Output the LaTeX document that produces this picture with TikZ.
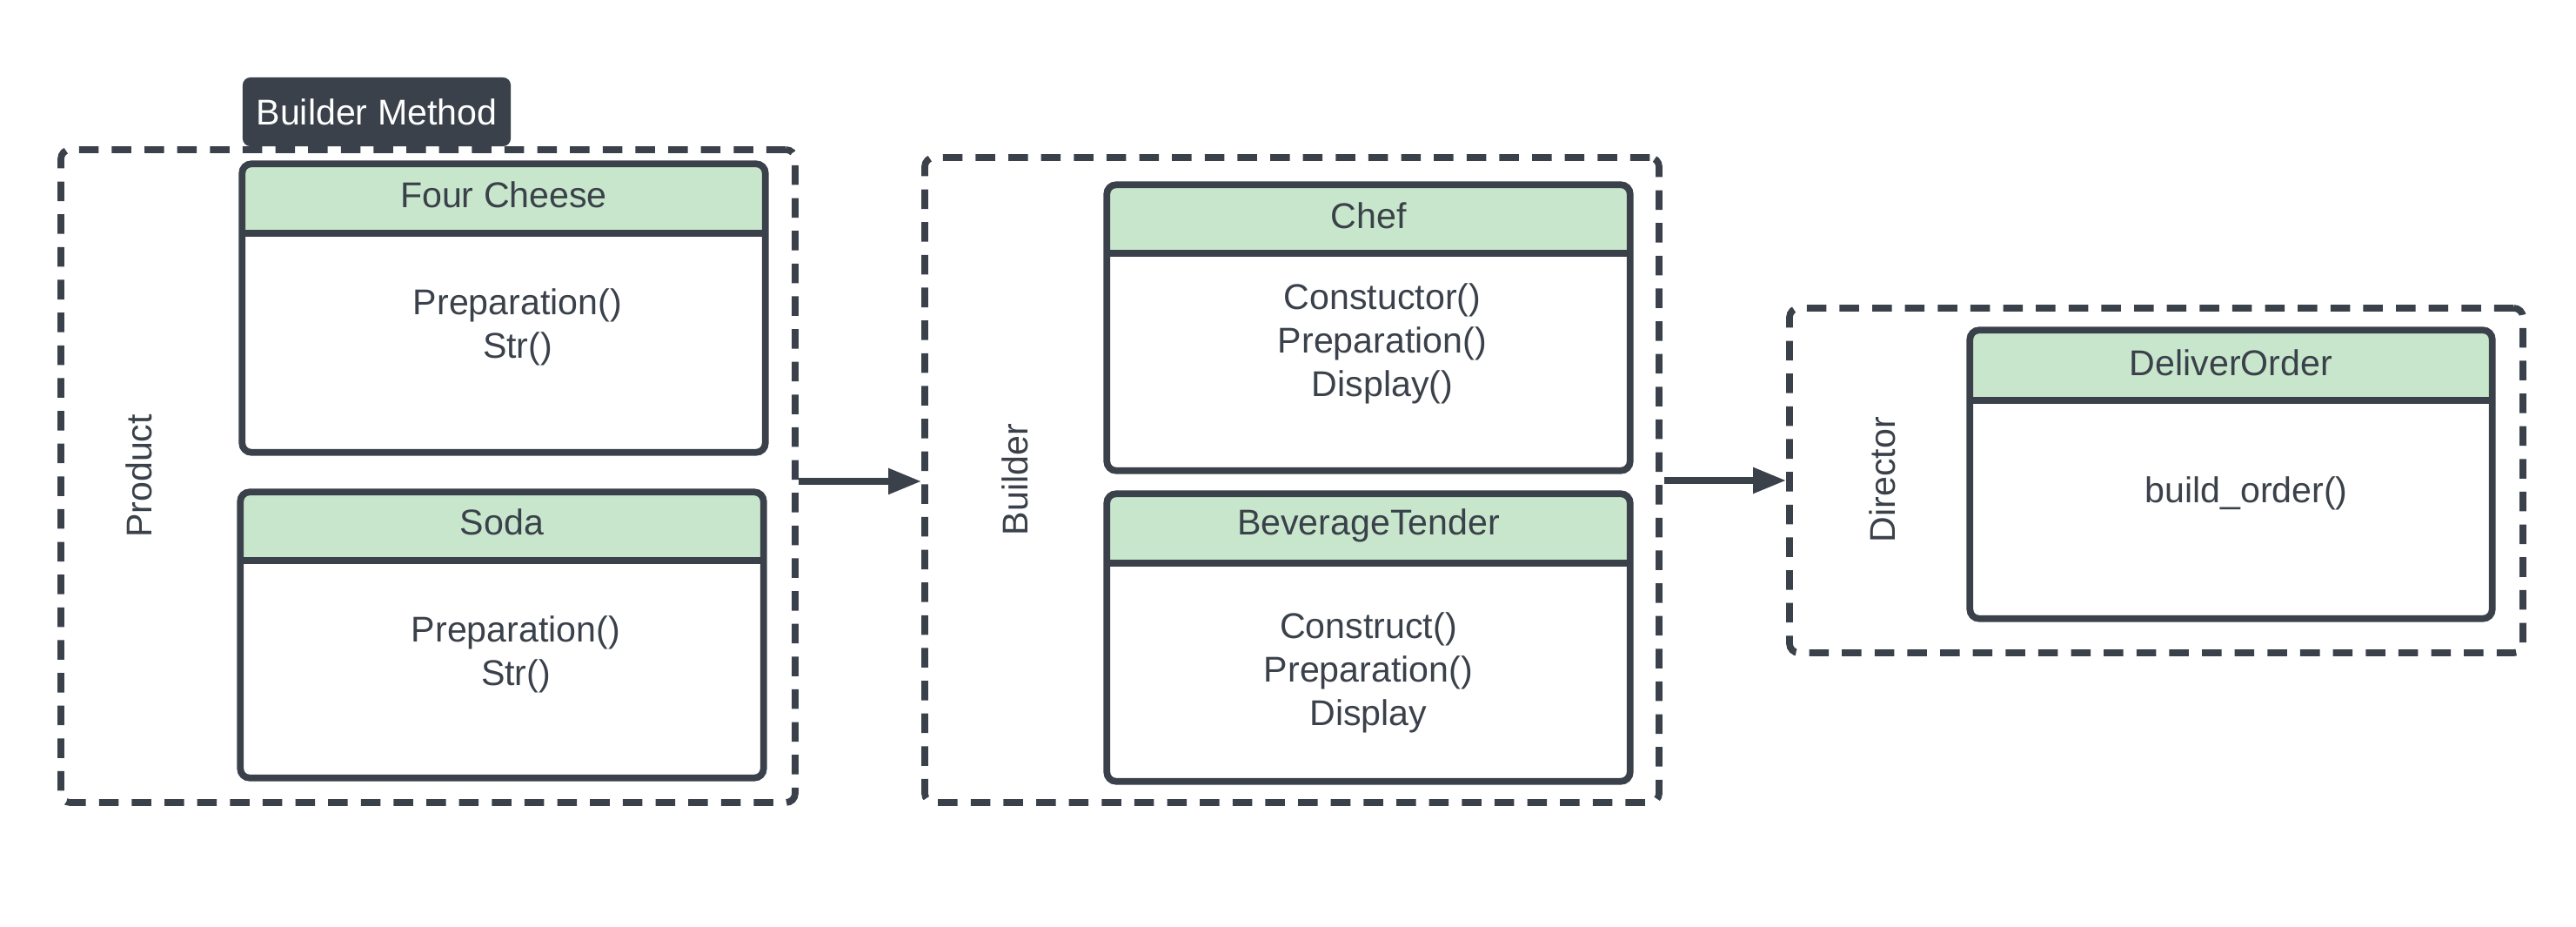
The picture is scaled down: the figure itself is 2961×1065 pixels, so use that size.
\documentclass[tikz,border=0pt]{standalone}
\usepackage{fontspec}
\setmainfont{Liberation Sans}
\usetikzlibrary{fit,arrows.meta}
\definecolor{ink}{HTML}{3A414A}
\definecolor{hdrgreen}{HTML}{C8E6CC}
\tikzset{
  grp/.style={draw=ink, line width=2.2pt, dash pattern=on 6.4pt off 4.3pt, rounded corners=3pt, inner sep=0pt},
  clsfill/.style={fill=white, inner sep=0pt, rounded corners=3pt},
  clsline/.style={draw=ink, line width=2.2pt, rounded corners=3pt},
  divline/.style={draw=ink, line width=2.2pt},
  txt/.style={text=ink, font=\fontsize{11.7pt}{14.2pt}\selectfont, align=center, inner sep=0pt},
  tagbox/.style={fill=ink, rounded corners=2.5pt, text=white, font=\fontsize{11.7pt}{14.2pt}\selectfont, inner sep=0pt},
  arr/.style={draw=ink, line width=2.2pt, -{Triangle[length=10.8pt,width=8pt]}},
}
\newcommand\umlbox[8]{%
  \node[clsfill, fit={(#2,#3) (#4,#5)}] (#1) {};
  \begin{scope}
    \clip[rounded corners=3pt] (#1.north west) rectangle (#1.south east);
    \fill[hdrgreen] (#1.north west) rectangle (#1.east |- 0,#6);
  \end{scope}
  \draw[divline] (#1.west |- 0,#6) -- (#1.east |- 0,#6);
  \draw[clsline] (#1.north west) rectangle (#1.south east);
  \node[txt] (#1-title) at (#1.center |- 0,#7) {#8};
}
\begin{document}
\begin{tikzpicture}[x=0.01cm, y=-0.01cm]
\useasboundingbox[fill=white] (0,0) rectangle (2961,1065);

% groups
\node[grp, fit={(70,172) (914,922)}] (product) {};
\node[grp, fit={(1063,181) (1907,922)}] (builder) {};
\node[grp, fit={(2057,354) (2900,750)}] (director) {};

% tag
\node[tagbox, minimum width=3.08cm, minimum height=0.79cm] (tag) at (433,128.5) {Builder Method};

% group labels
\node[txt, rotate=90] (productlbl) at (160,547) {Product};
\node[txt, rotate=90] (builderlbl) at (1167,551) {Builder};
\node[txt, rotate=90] (directorlbl) at (2164,551) {Director};

% class boxes
\umlbox{fourcheese}{279}{189}{879}{519}{268}{224}{Four Cheese}
\node[txt] (fourcheese-body) at (595,376) {Preparation()\\Str()};

\umlbox{soda}{277}{566}{877}{893}{644}{600}{Soda}
\node[txt] (soda-body) at (593,752) {Preparation()\\Str()};

\umlbox{chef}{1273}{213}{1873}{540}{291}{248}{Chef}
\node[txt] (chef-body) at (1589,395) {Constuctor()\\Preparation()\\Display()};

\umlbox{bev}{1273}{568}{1873}{897}{647}{604}{BeverageTender}
\node[txt] (bev-body) at (1573,773) {Construct()\\Preparation()\\Display};

\umlbox{deliver}{2265}{380}{2864}{710}{460}{417}{DeliverOrder}
\node[txt] (deliver-body) at (2582,567) {build\_order()};

% connectors
\coordinate (a1) at (0,553);
\coordinate (a2) at (0,552);
\draw[arr] (product.east |- a1) -- ([xshift=0pt]builder.west |- a1);
\draw[arr] ([xshift=0.5pt]builder.east |- a2) -- ([xshift=0pt]director.west |- a2);
\end{tikzpicture}
\end{document}
